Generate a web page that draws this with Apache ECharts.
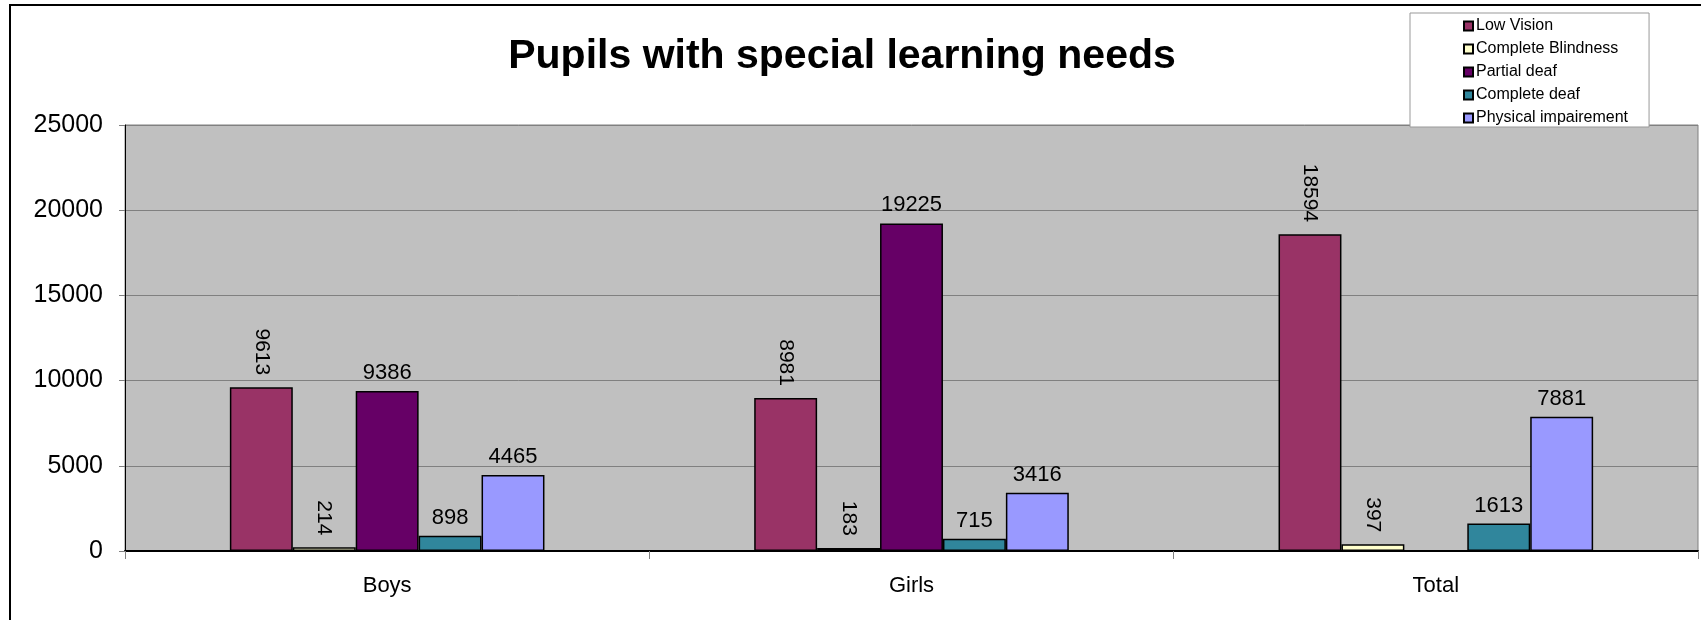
<!DOCTYPE html>
<html>
<head>
<meta charset="utf-8">
<script src="https://cdn.jsdelivr.net/npm/echarts@6/dist/echarts.min.js"></script>
<style>html,body{margin:0;padding:0;background:#fff;}#c{width:1701px;height:620px;}</style>
</head>
<body>
<div id="c"></div>
<script>
const categories = ['Boys', 'Girls', 'Total'];
const seriesNames = ['Low Vision', 'Complete Blindness', 'Partial deaf', 'Complete deaf', 'Physical impairement'];
const lowVision = [9613, 8981, 18594];
const completeBlindness = [214, 183, 397];
const partialDeaf = [9386, 19225, null];
const completeDeaf = [898, 715, 1613];
const physicalImpairement = [4465, 3416, 7881];
const yTicks = { min: 0, max: 25000, interval: 5000 };

const colors = ['#993366', '#FFFFCC', '#660066', '#30869C', '#9999FF'];
const rotatedLabel = [true, true, false, false, false];
const values = [lowVision, completeBlindness, partialDeaf, completeDeaf, physicalImpairement];
const FONT = '"Liberation Sans", Arial, sans-serif';

const chart = echarts.init(document.getElementById('c'), null, { renderer: 'canvas' });
chart.setOption({
  animation: false,
  backgroundColor: '#fff',
  textStyle: { fontFamily: FONT },
  title: {
    text: 'Pupils with special learning needs',
    left: 842, textAlign: 'center', top: 36, padding: 0,
    textStyle: { fontFamily: FONT, fontSize: 41, fontWeight: 'bold', color: '#000' }
  },
  legend: {
    orient: 'vertical',
    left: 1410, top: 13,
    padding: [5, 21, 1, 53],
    itemGap: 7,
    itemWidth: 9, itemHeight: 9,
    icon: 'rect',
    backgroundColor: '#fff',
    borderColor: '#999', borderWidth: 1,
    textStyle: { fontFamily: FONT, fontSize: 16, color: '#000', padding: [0, 0, 0, -2] },
    data: seriesNames
  },
  graphic: [{
    type: 'rect', silent: true, z: 100,
    shape: { x: 10, y: 5, width: 1720, height: 700 },
    style: { fill: 'none', stroke: '#000', lineWidth: 2 }
  }],
  grid: {
    left: 125, right: 3, top: 125, bottom: 69,
    show: true, backgroundColor: '#C0C0C0', borderColor: '#808080', borderWidth: 1
  },
  xAxis: {
    type: 'category', data: categories,
    axisLine: { lineStyle: { color: '#000', width: 2 } },
    axisTick: { show: true, length: 8, lineStyle: { color: '#808080' } },
    axisLabel: { fontFamily: FONT, fontSize: 22, color: '#000', margin: 24 }
  },
  yAxis: {
    type: 'value', min: yTicks.min, max: yTicks.max, interval: yTicks.interval,
    axisLine: { show: true, lineStyle: { color: '#000', width: 1 } },
    axisTick: { show: true, length: 6, lineStyle: { color: '#808080' } },
    splitLine: { lineStyle: { color: '#808080', width: 1 } },
    axisLabel: { fontFamily: FONT, fontSize: 25, color: '#000', margin: 22, formatter: v => String(v) }
  },
  series: seriesNames.map((name, i) => ({
    name: name, type: 'bar', data: values[i],
    barGap: '0%', barCategoryGap: '40%',
    itemStyle: { color: colors[i], borderColor: '#000', borderWidth: 1.5 },
    label: rotatedLabel[i] ? {
      show: true, position: 'top', distance: 12, rotate: -90,
      align: 'right', verticalAlign: 'middle',
      fontFamily: FONT, fontSize: 21, color: '#000'
    } : {
      show: true, position: 'top', distance: 7,
      fontFamily: FONT, fontSize: 22, color: '#000'
    }
  }))
});
</script>
</body>
</html>
